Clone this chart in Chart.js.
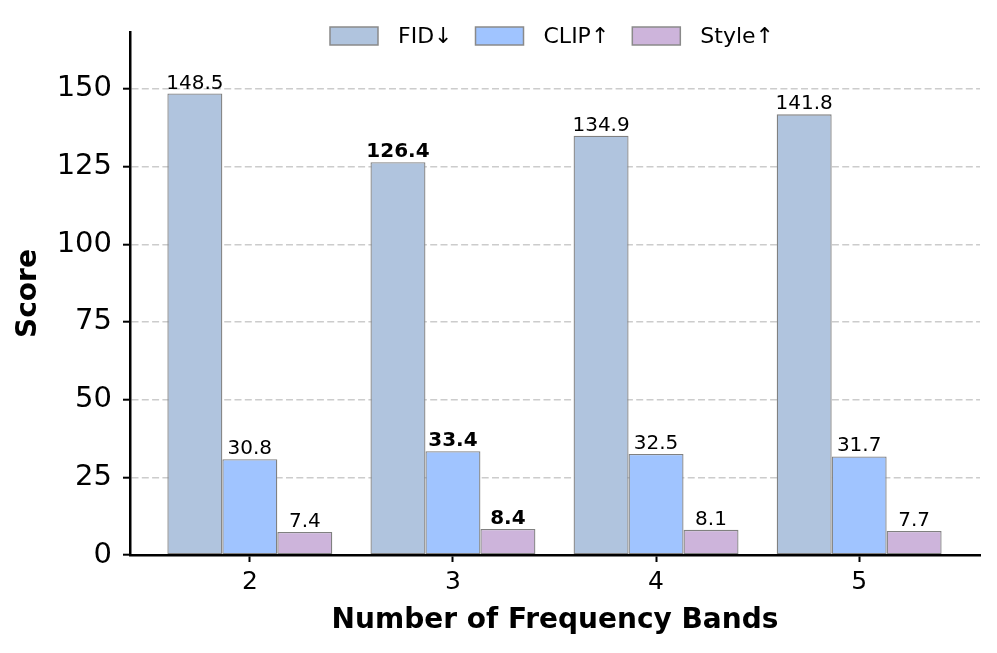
<!DOCTYPE html>
<html>
<head>
<meta charset="utf-8">
<script src="https://cdn.jsdelivr.net/npm/chart.js@4.4.1/dist/chart.umd.min.js"></script>
<style>
  html, body { margin: 0; padding: 0; background: #fff; }
  #wrap { width: 997px; height: 653px; }
</style>
</head>
<body>
<div id="wrap"><canvas id="myChart" width="997" height="653"></canvas></div>
<script>
// values
const bands = ['2', '3', '4', '5'];
const fidScores = [148.5, 126.4, 134.9, 141.8];
const clipScores = [30.8, 33.4, 32.5, 31.7];
const styleScores = [7.4, 8.4, 8.1, 7.7];
const yTicks = [0, 25, 50, 75, 100, 125, 150];
const bestBand = '3'; // labels of this group are bold

const FONT = '"DejaVu Sans", sans-serif';
const toPoints = arr => arr.map((v, i) => ({ x: i, y: v }));

const valueLabels = {
  id: 'valueLabels',
  afterDatasetsDraw(chart) {
    const { ctx } = chart;
    ctx.save();
    ctx.fillStyle = '#000';
    ctx.textAlign = 'center';
    ctx.textBaseline = 'alphabetic';
    chart.data.datasets.forEach((ds, di) => {
      chart.getDatasetMeta(di).data.forEach((bar, i) => {
        ctx.font = (bands[i] === bestBand ? 'bold ' : '') + '20px ' + FONT;
        ctx.fillText(ds.data[i].y.toFixed(1), bar.x, bar.y - 5);
      });
    });
    ctx.restore();
  }
};

// legend sits inside the plot, top centre (like matplotlib upper center)
const topLegend = {
  id: 'topLegend',
  afterDraw(chart) {
    const { ctx, chartArea } = chart;
    ctx.save();
    ctx.font = '22px ' + FONT;
    const items = chart.data.datasets.map(ds => ({
      label: ds.label, color: ds.backgroundColor, w: ctx.measureText(ds.label).width
    }));
    const boxW = 48, boxH = 18, gapIn = 20, gapOut = 23;
    const total = items.reduce((s, it) => s + boxW + gapIn + it.w, 0) + gapOut * (items.length - 1);
    let x = (chartArea.left + chartArea.right) / 2 - total / 2 - 3;
    const cy = 36;
    items.forEach(it => {
      ctx.fillStyle = it.color;
      ctx.fillRect(x, cy - boxH / 2, boxW, boxH);
      ctx.strokeStyle = '#8a8a8a';
      ctx.lineWidth = 1.5;
      ctx.strokeRect(x, cy - boxH / 2, boxW, boxH);
      x += boxW + gapIn;
      ctx.fillStyle = '#000';
      ctx.textAlign = 'left';
      ctx.textBaseline = 'middle';
      ctx.fillText(it.label, x, cy + 1);
      x += it.w + gapOut;
    });
    ctx.restore();
  }
};

const barStyle = {
  borderColor: '#808080', borderWidth: 1.3, borderSkipped: false,
  categoryPercentage: 0.812, barPercentage: 1.0
};

new Chart('myChart', {
  type: 'bar',
  data: {
    datasets: [
      { label: 'FID↓', data: toPoints(fidScores), backgroundColor: '#B0C4DE', ...barStyle },
      { label: 'CLIP↑', data: toPoints(clipScores), backgroundColor: '#A0C4FF', ...barStyle },
      { label: 'Style↑', data: toPoints(styleScores), backgroundColor: '#CDB4DB', ...barStyle }
    ]
  },
  plugins: [valueLabels, topLegend],
  options: {
    responsive: false,
    devicePixelRatio: 1,
    animation: false,
    layout: { padding: { top: 32, right: 17, bottom: 0, left: 0 } },
    plugins: {
      legend: { display: false },
      tooltip: { enabled: false }
    },
    scales: {
      x: {
        type: 'linear',
        offset: false,
        min: -0.59,
        max: 3.595,
        afterBuildTicks: axis => { axis.ticks = bands.map((b, i) => ({ value: i })); },
        afterFit: axis => { axis.height = 98; },
        ticks: {
          callback: v => bands[v],
          color: '#000',
          font: { family: FONT, size: 25 },
          padding: 5,
          maxRotation: 0
        },
        grid: { offset: false, drawOnChartArea: false, tickLength: 7, tickWidth: 2, tickColor: '#000' },
        border: { color: '#000', width: 2.5, z: 1 },
        title: {
          display: true,
          text: 'Number of Frequency Bands',
          color: '#000',
          font: { family: FONT, size: 28, weight: 'bold' },
          padding: { top: 0, bottom: 15 }
        }
      },
      y: {
        min: 0,
        max: 168.3,
        afterBuildTicks: axis => { axis.ticks = yTicks.map(v => ({ value: v })); },
        afterFit: axis => { axis.width = 130; },
        ticks: {
          color: '#000',
          font: { family: FONT, size: 29 },
          padding: 11
        },
        grid: { color: '#cccccc', lineWidth: 1.4, tickLength: 7, tickWidth: 2, tickColor: '#000', tickBorderDash: [] },
        border: { color: '#000', width: 2.5, dash: [7, 3.3], z: 1 },
        title: {
          display: true,
          text: 'Score',
          color: '#000',
          font: { family: FONT, size: 28, weight: 'bold' },
          padding: { top: 12, bottom: 0 }
        }
      }
    }
  }
});
</script>
</body>
</html>
